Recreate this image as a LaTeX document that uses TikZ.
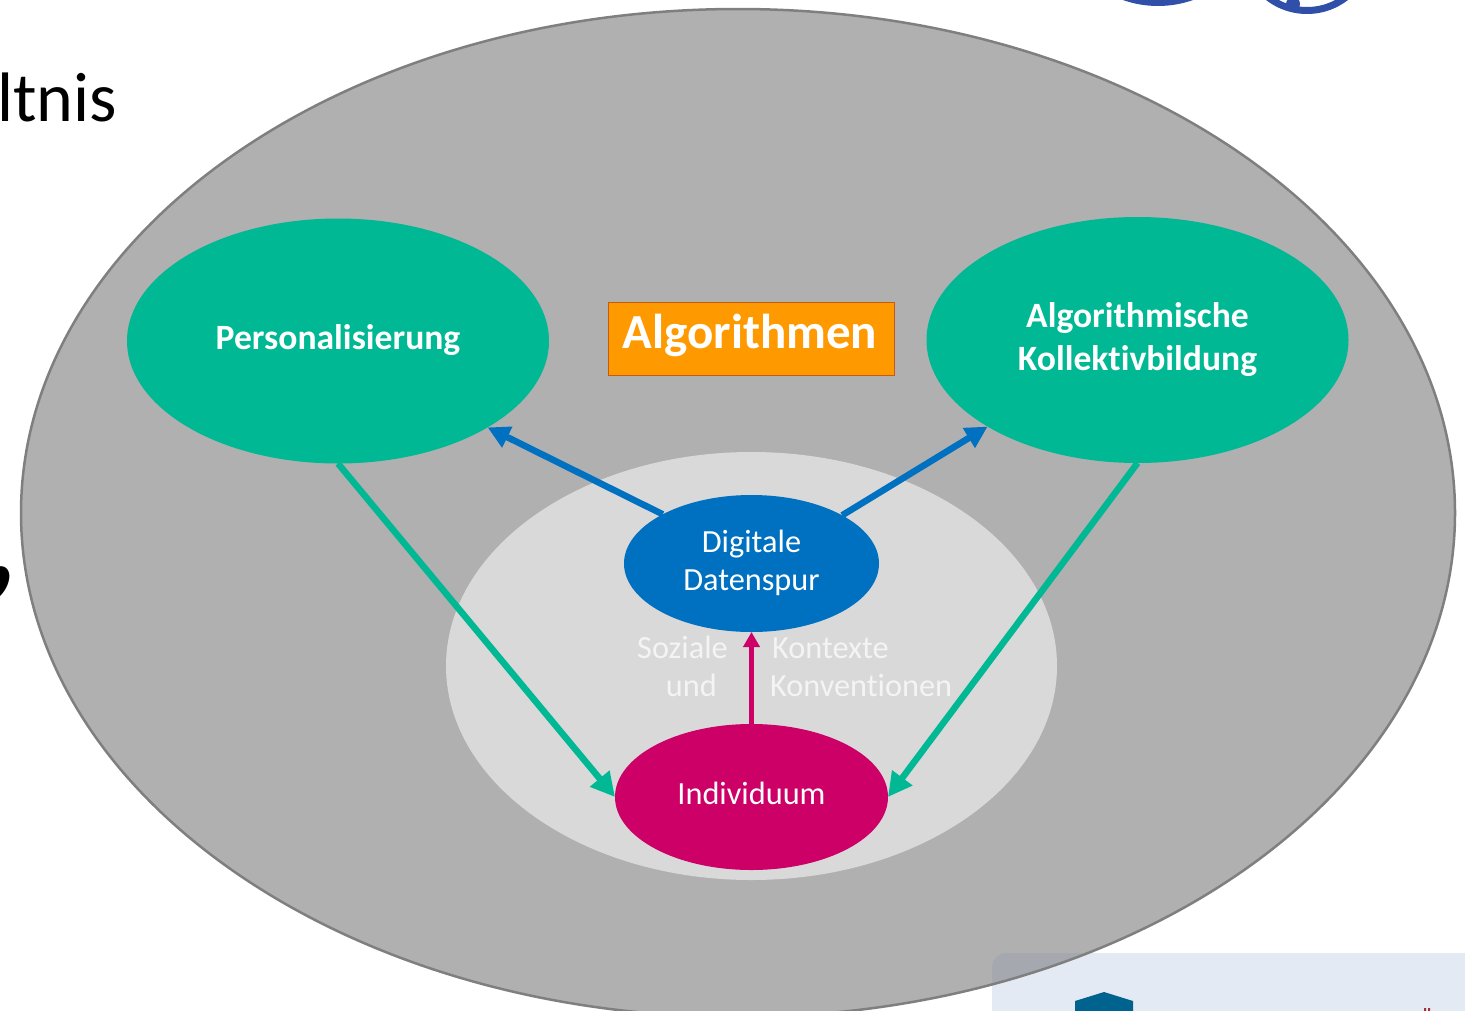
\documentclass[tikz,border=0pt]{standalone}
\usepackage{fontspec}
\setmainfont[Ligatures=NoCommon]{Carlito}
\usetikzlibrary{arrows.meta,shapes.geometric}
\definecolor{bigfill}{HTML}{B0B0B0}
\definecolor{bigline}{HTML}{7F7F7F}
\definecolor{innerfill}{HTML}{D9D9D9}
\definecolor{tealc}{HTML}{00B894}
\definecolor{bluec}{HTML}{0070C0}
\definecolor{magc}{HTML}{CC0066}
\definecolor{orangec}{HTML}{FF9900}
\definecolor{orangeline}{HTML}{C55A11}
\definecolor{panelc}{HTML}{E4EAF4}
\definecolor{overlapc}{HTML}{A5A9AF}
\definecolor{hexc}{HTML}{00628F}
\definecolor{logoc}{HTML}{2F4FA8}
\definecolor{softw}{HTML}{F4F4F4}
\newcommand{\lowertext}[2]{\raisebox{-#1pt}{\begin{tabular}{@{}c@{}}#2\end{tabular}}}
\tikzset{
  blob/.style={ellipse,inner sep=0pt,outer sep=0pt,text=white,align=center},
  tealblob/.style={blob,fill=tealc,minimum width=422pt,minimum height=245pt,font=\fontsize{35.6}{43}\selectfont\bfseries},
  smallblob/.style={blob,font=\fontsize{32.3}{38}\selectfont},
  softtext/.style={text=softw,inner sep=0pt,font=\fontsize{32.3}{32}\selectfont},
  tealarrow/.style={draw=tealc,line width=6.5pt,-{Triangle[length=24pt,width=24pt]}},
  bluearrow/.style={draw=bluec,line width=6.5pt,-{Triangle[length=22pt,width=22pt]}},
  magarrow/.style={draw=magc,line width=5pt,-{Triangle[length=15pt,width=16pt]}},
  bgtext/.style={text=black,inner sep=0pt},
}
\begin{document}
\begin{tikzpicture}[x=1pt,y=-1pt]
\useasboundingbox (0,0) rectangle (1465,1010);
\clip (0,0) rectangle (1465,1010);
% background material of the slide
\node[bgtext,anchor=base east,font=\fontsize{70}{70}\selectfont] (title) at (117,121) {ltnis};
\node[bgtext,anchor=base west,font=\fontsize{120}{120}\selectfont\bfseries] (mark) at (-15,583) {,};
\fill[logoc] (1158,-99) circle (105);
\draw[logoc,line width=7pt] (1307,-53) circle (63.5);
\fill[logoc] (1293,4) circle (7);
\fill[white] (1302,4) circle (2);
\fill[panelc,rounded corners=14pt] (992,953) rectangle (1500,1060);
% outer ellipse
\fill[bigfill] (738,513) ellipse [x radius=717,y radius=504];
\begin{scope}
  \clip (738,513) ellipse [x radius=717,y radius=504];
  \fill[overlapc,rounded corners=14pt] (992,953) rectangle (1500,1060);
\end{scope}
\node[ellipse,draw=bigline,line width=2.5pt,inner sep=0pt,minimum width=1434pt,minimum height=1008pt] (outer) at (738,513) {};
\fill[hexc] (1104,992) -- (1133,1001) -- (1133,1012) -- (1075,1012) -- (1075,1001) -- cycle;
\fill[red!55!black!80] (1424,1008) rectangle (1426,1011) (1428,1008) rectangle (1430,1011);
% inner ellipse
\node[ellipse,fill=innerfill,inner sep=0pt,minimum width=611pt,minimum height=428pt] (inner) at (751.5,666) {};
% nodes
\node[tealblob] (pers) at (338,341) {\lowertext{3}{Personalisierung}};
\node[tealblob,minimum height=246pt] (kollektiv) at (1137.5,340) {\lowertext{3}{Algorithmische\\Kollektivbildung}};
\node[smallblob,fill=bluec,minimum width=255pt,minimum height=137pt] (daten) at (751.5,563.5) {\lowertext{3}{Digitale\\Datenspur}};
\node[smallblob,fill=magc,minimum width=273pt,minimum height=146pt] (indiv) at (751.5,797) {\lowertext{1}{Individuum}};
\node[fill=orangec,draw=orangeline,line width=1pt,inner sep=0pt,minimum width=286pt,minimum height=73pt,text=white,font=\fontsize{49}{49}\selectfont\bfseries] (algo) at (751.5,339) {\hspace*{-3pt}\lowertext{3}{Algorithmen}};
% labels
\node[softtext,anchor=base east] (soz) at (728,658) {Soziale};
\node[softtext,anchor=base east] (und) at (717,696) {und};
\node[softtext,anchor=base west] (kon) at (772,658) {Kontexte};
\node[softtext,anchor=base west] (konv) at (770,696) {Konventionen};
% connectors
\draw[tealarrow] (pers.south) -- (indiv.west);
\draw[tealarrow] (kollektiv.south) -- (indiv.east);
\draw[bluearrow] (daten.151) -- (pers.-30);
\draw[bluearrow] (daten.28) -- (kollektiv.210.5);
\draw[magarrow] (indiv.north) -- (daten.south);
\end{tikzpicture}
\end{document}
